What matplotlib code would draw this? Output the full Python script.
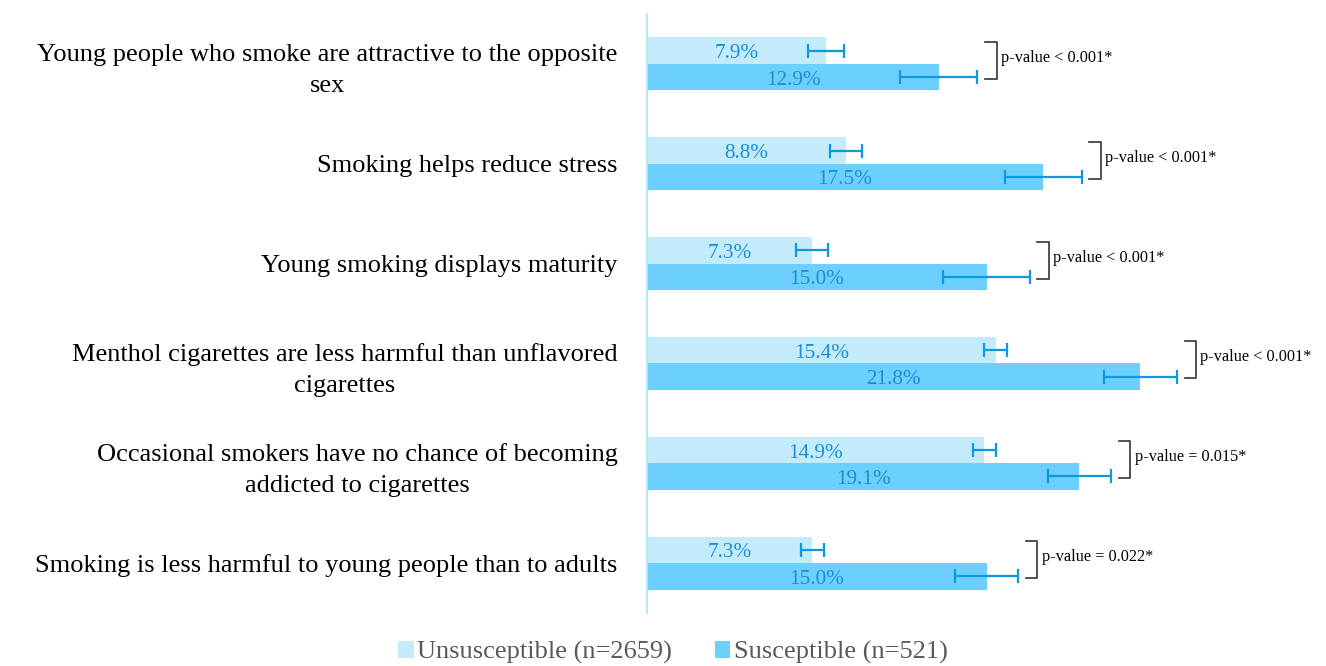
import matplotlib.pyplot as plt
import numpy as np

# 題目
categories = [
    "Young people who smoke are attractive to the opposite\nsex",
    "Smoking helps reduce stress",
    "Young smoking displays maturity",
    "Menthol cigarettes are less harmful than unflavored\ncigarettes",
    "Occasional smokers have no chance of becoming\naddicted to cigarettes",
    "Smoking is less harmful to young people than to adults",
]

# 百分比
unsus = [7.9, 8.8, 7.3, 15.4, 14.9, 7.3]
sus = [12.9, 17.5, 15.0, 21.8, 19.1, 15.0]

# 誤差 (半寬)
unsus_err = [0.8, 0.7, 0.7, 0.5, 0.5, 0.5]
sus_err = [1.7, 1.7, 1.9, 1.6, 1.4, 1.4]

# p 值
pvals = ["p-value < 0.001*", "p-value < 0.001*", "p-value < 0.001*",
         "p-value < 0.001*", "p-value = 0.015*", "p-value = 0.022*"]

legend_labels = ["Unsusceptible (n=2659)", "Susceptible (n=521)"]

light = '#c4ebfc'
dark = '#6dcffd'
err_c = '#0d98e0'
txt_c = '#1a8fd6'

plt.rcParams['font.family'] = ['Liberation Serif', 'DejaVu Serif']

fig = plt.figure(figsize=(13.26, 6.66), dpi=100)
ax = fig.add_axes([647 / 1326, 1 - 613 / 666, 1 - 647 / 1326, 599 / 666])

y = np.arange(len(categories))
h = 0.265

ax.barh(y - h / 2, unsus, height=h, color=light, label=legend_labels[0])
ax.barh(y + h / 2, sus, height=h, color=dark, label=legend_labels[1])

ax.errorbar(unsus, y - h / 2, xerr=unsus_err, fmt='none', ecolor=err_c,
            elinewidth=1.6, capsize=5, capthick=1.6)
ax.errorbar(sus, y + h / 2, xerr=sus_err, fmt='none', ecolor=err_c,
            elinewidth=1.6, capsize=5, capthick=1.6)

# 數值標籤
for i in range(len(categories)):
    ax.text(unsus[i] / 2, y[i] - h / 2 + 0.03, f"{unsus[i]:.1f}%", ha='center', va='center',
            fontsize=15.3, color=txt_c)
    ax.text(sus[i] / 2, y[i] + h / 2 + 0.03, f"{sus[i]:.1f}%", ha='center', va='center',
            fontsize=15.3, color=txt_c)

    # 括號
    bx = sus[i] + sus_err[i] + 0.35
    w = 0.5
    top = y[i] - 0.22
    bot = y[i] + 0.15
    ax.plot([bx, bx + w, bx + w, bx], [top, top, bot, bot], color='#333333', lw=1.2,
            clip_on=False)
    ax.text(bx + w + 0.2, y[i] - 0.06, pvals[i], ha='left', va='center', fontsize=11.7,
            color='black')

ax.set_xlim(0, 30)
ax.set_ylim(len(categories) - 0.5, -0.5)

ax.set_yticks(y)
ax.set_yticklabels(categories, fontsize=19)
for lab in ax.get_yticklabels():
    lab.set_multialignment('center')
    lab.set_linespacing(1.5)
ax.tick_params(axis='y', length=0, pad=21)
ax.set_xticks([])

for s in ['top', 'right', 'bottom']:
    ax.spines[s].set_visible(False)
ax.spines['left'].set_color('#bfe6f8')
ax.spines['left'].set_linewidth(1.5)

leg = fig.legend(loc='lower center', bbox_to_anchor=(0.5075, -0.033), ncol=2, frameon=False,
                 fontsize=19, handlelength=0.6, handleheight=0.6, handletextpad=0.15,
                 columnspacing=1.6)
for t in leg.get_texts():
    t.set_color('#595959')

fig.savefig('out.png', dpi=100)
